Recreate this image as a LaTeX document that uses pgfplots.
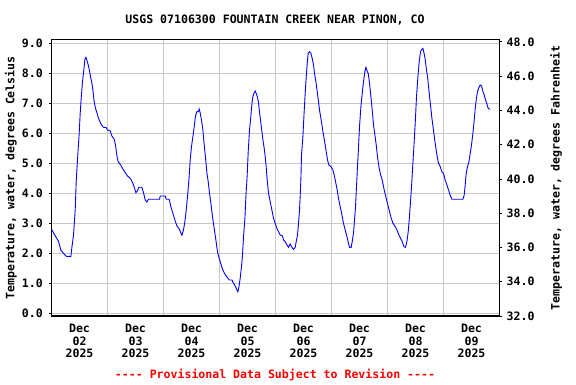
\documentclass[border=0pt]{standalone}
\usepackage{pgfplots}
\pgfplotsset{compat=1.18}
\usepackage{pgfplotstable}
\usepackage{fontspec}
\setmainfont{DejaVu Sans Mono}[Ligatures=TeXOff]
\definecolor{gridgray}{RGB}{200,200,200}
\definecolor{usgsblue}{RGB}{0,0,255}
\definecolor{usgsred}{RGB}{255,0,0}

% hours since 2025-12-02 00:00, water temperature (deg C)
\pgfplotstableread{
t T
0.00 2.80
1.59 2.58
3.00 2.40
4.03 2.10
5.14 2.00
6.30 1.90
8.31 1.90
8.74 2.20
9.43 2.60
10.16 3.44
10.59 4.40
11.31 5.33
11.87 6.00
12.30 6.67
12.73 7.17
13.29 7.72
13.89 8.13
14.31 8.47
14.74 8.53
15.17 8.44
15.73 8.28
16.29 8.09
16.71 7.89
17.31 7.67
17.74 7.44
18.30 7.05
18.86 6.83
19.46 6.69
20.01 6.53
20.57 6.42
21.43 6.28
22.29 6.20
23.44 6.19
24.00 6.11
25.16 6.08
25.89 5.91
26.87 5.80
27.43 5.61
28.03 5.24
28.59 5.05
29.44 4.97
30.43 4.83
31.59 4.69
32.57 4.58
34.03 4.47
34.89 4.33
35.57 4.17
36.17 4.02
36.86 4.09
37.46 4.20
38.74 4.20
39.43 4.02
40.16 3.78
40.89 3.71
41.57 3.80
46.29 3.80
46.59 3.91
48.73 3.91
49.16 3.80
50.44 3.80
51.17 3.55
52.03 3.33
52.89 3.11
53.74 2.91
54.86 2.80
55.46 2.67
55.89 2.60
56.57 2.78
57.17 3.06
57.73 3.44
58.29 3.89
58.89 4.44
59.44 5.11
60.00 5.56
60.60 5.89
61.16 6.22
61.71 6.58
62.31 6.72
62.87 6.72
63.30 6.81
63.73 6.67
64.29 6.44
64.89 6.11
65.31 5.72
65.74 5.39
66.17 5.05
66.60 4.67
67.16 4.39
67.71 4.00
68.31 3.67
69.00 3.22
69.73 2.83
70.46 2.44
71.14 2.05
71.87 1.83
72.73 1.61
73.46 1.44
74.14 1.33
74.87 1.24
75.60 1.17
76.16 1.11
77.31 1.11
78.00 1.00
78.86 0.89
79.46 0.78
79.89 0.72
80.31 0.87
80.87 1.17
81.43 1.56
81.86 1.94
82.29 2.56
82.89 3.17
83.31 3.89
83.87 4.61
84.30 5.39
84.86 6.11
85.29 6.44
85.71 6.83
86.14 7.17
86.74 7.33
87.30 7.41
87.73 7.33
88.29 7.20
88.71 7.02
89.14 6.72
89.57 6.44
90.17 6.06
90.60 5.78
91.16 5.50
91.59 5.22
92.01 4.89
92.31 4.56
93.00 4.00
93.73 3.72
94.46 3.44
95.14 3.17
95.87 3.00
96.60 2.83
97.29 2.72
98.01 2.61
99.00 2.58
99.43 2.44
100.16 2.39
100.89 2.28
101.57 2.20
102.30 2.31
103.03 2.20
103.71 2.13
104.44 2.20
104.87 2.39
105.43 2.61
105.86 3.00
106.29 3.44
106.59 3.94
106.89 4.50
107.14 5.28
107.74 5.89
108.17 6.56
108.60 7.17
109.03 7.72
109.59 8.33
110.01 8.67
110.57 8.72
111.17 8.67
111.73 8.50
112.29 8.28
112.71 8.00
113.31 7.72
113.87 7.39
114.43 7.05
114.86 6.78
115.46 6.50
116.01 6.22
116.57 5.94
117.17 5.67
117.73 5.39
118.29 5.11
118.89 4.94
119.74 4.89
120.60 4.78
121.16 4.61
121.59 4.44
122.31 4.17
123.00 3.83
123.73 3.55
124.46 3.28
125.14 3.00
125.87 2.78
126.60 2.56
127.29 2.33
127.71 2.20
128.44 2.20
128.87 2.39
129.43 2.67
129.86 3.11
130.29 3.55
130.71 4.22
131.14 4.90
131.44 5.33
132.00 6.22
132.60 6.89
133.16 7.33
133.71 7.72
134.31 8.06
134.74 8.20
135.17 8.09
135.73 8.00
136.29 7.67
136.89 7.22
137.44 6.78
138.00 6.28
138.60 5.94
139.16 5.61
139.71 5.22
140.31 4.89
140.87 4.67
141.73 4.44
142.59 4.11
143.44 3.83
144.17 3.61
144.86 3.39
145.59 3.17
146.31 3.00
147.30 2.89
148.03 2.78
148.89 2.61
149.57 2.50
150.30 2.39
151.03 2.22
151.71 2.20
152.31 2.39
152.87 2.72
153.30 3.11
153.86 3.72
154.29 4.22
154.71 4.78
155.31 5.56
155.87 6.33
156.43 7.22
157.03 7.89
157.59 8.39
158.14 8.72
158.74 8.80
159.17 8.83
159.60 8.69
160.16 8.47
160.71 8.11
161.31 7.78
161.87 7.33
162.43 6.94
163.03 6.50
163.59 6.17
164.14 5.83
164.74 5.50
165.30 5.22
165.86 5.00
166.59 4.89
167.44 4.69
168.00 4.67
168.73 4.44
169.46 4.28
170.14 4.11
170.87 3.94
171.60 3.80
176.31 3.80
176.87 3.94
177.30 4.28
177.73 4.67
178.29 4.89
178.89 5.05
179.44 5.33
180.00 5.61
180.60 6.00
181.16 6.44
181.59 6.83
182.01 7.11
182.57 7.39
183.17 7.53
183.73 7.61
184.29 7.58
184.89 7.39
185.44 7.28
186.00 7.11
186.60 6.98
187.16 6.83
188.01 6.80
}\tempdata

\begin{document}
\begin{tikzpicture}[x=1bp,y=1bp]
\useasboundingbox (0,0) rectangle (576,384);
\pgfplotsset{
  every axis/.append style={
    scale only axis, width=448bp, height=276.7bp,
    at={(51.5bp,68bp)}, anchor=south west,
    font=\fontsize{11.6}{12.7}\selectfont\bfseries,
    /pgf/number format/assume math mode=true,
    /pgf/number format/.cd, fixed, fixed zerofill, precision=1,
  },
}
\begin{axis}[
  xmin=0, xmax=192,
  ymin=-0.09, ymax=9.133,
  axis line style={black, line width=1.2bp},
  xtick={24,48,72,96,120,144,168},
  xticklabels={},
  xmajorgrids,
  extra x ticks={12,36,60,84,108,132,156,180},
  extra x tick labels={{Dec\\02\\2025},{Dec\\03\\2025},{Dec\\04\\2025},{Dec\\05\\2025},{Dec\\06\\2025},{Dec\\07\\2025},{Dec\\08\\2025},{Dec\\09\\2025}},
  extra x tick style={grid=none, major tick length=0pt,
    xticklabel style={align=center, anchor=north, inner sep=0pt, yshift=-8bp}},
  x tick style={draw=none},
  ytick={0,1,...,9},
  ymajorgrids,
  y tick style={black, line width=0.8bp},
  major tick length=2.5bp,
  tick align=outside,
  ytick pos=left,
  xtick pos=bottom,
  yticklabel style={anchor=east, inner sep=0pt, xshift=-6bp},
  grid style={gridgray, line width=1bp},
]
\addplot[usgsblue, line width=0.9bp, sharp plot, mark=none] table[x=t, y=T] {\tempdata};
\draw[black, line width=1.2bp] (rel axis cs:0,0) rectangle (rel axis cs:1,1);
\end{axis}
\begin{axis}[
  xmin=0, xmax=192,
  ymin=32, ymax=48.15,
  axis x line=none,
  axis y line*=right,
  axis line style={black, line width=1.2bp},
  ytick={32,34,...,48},
  y tick style={black, line width=0.8bp},
  major tick length=2.5bp,
  tick align=outside,
  yticklabel style={anchor=west, inner sep=0pt, xshift=4.5bp},
]
\addplot[draw=none] coordinates {(0,40)};
\end{axis}
\node[font=\fontsize{11.6}{12.7}\selectfont\bfseries] at (275,364) {USGS 07106300 FOUNTAIN CREEK NEAR PINON, CO};
\node[font=\fontsize{11.6}{12.7}\selectfont\bfseries, rotate=90] at (11,206) {Temperature, water, degrees Celsius};
\node[font=\fontsize{11.6}{12.7}\selectfont\bfseries, rotate=90] at (556,206) {Temperature, water, degrees Fahrenheit};
\node[font=\fontsize{11.6}{12.7}\selectfont\bfseries, text=usgsred] at (275,9.5) {---- Provisional Data Subject to Revision ----};
\end{tikzpicture}
\end{document}
